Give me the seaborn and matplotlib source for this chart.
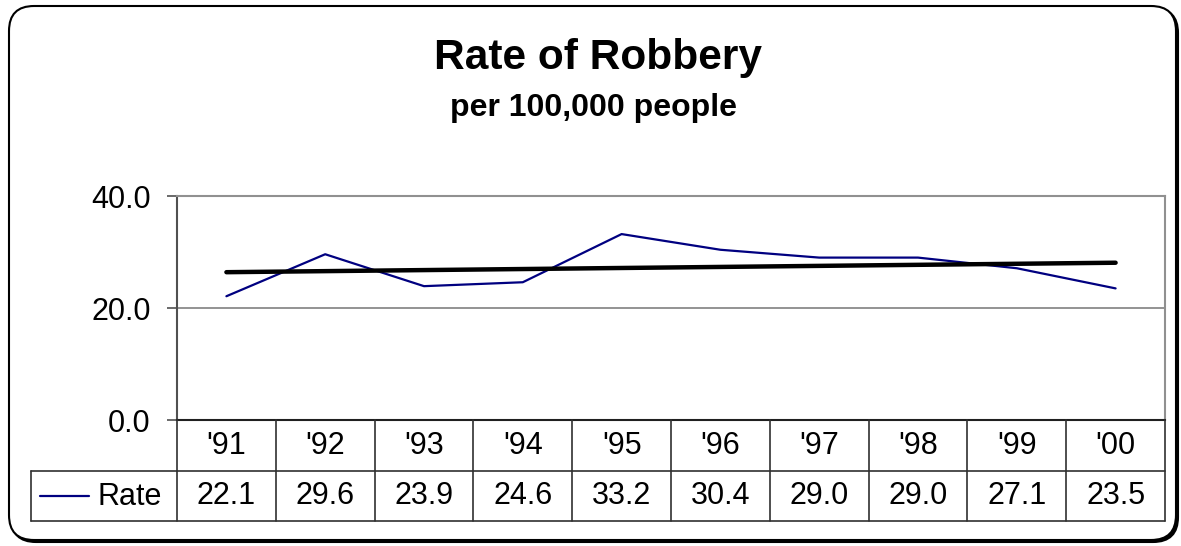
import matplotlib
matplotlib.use("Agg")

import matplotlib.pyplot as plt
import matplotlib.transforms as mtransforms
from matplotlib.patches import FancyBboxPatch
from matplotlib.lines import Line2D
import seaborn as sns
import pandas as pd
import numpy as np

years = ["'91", "'92", "'93", "'94", "'95", "'96", "'97", "'98", "'99", "'00"]
rate = [22.1, 29.6, 23.9, 24.6, 33.2, 30.4, 29.0, 29.0, 27.1, 23.5]
y_ticks = [0, 20, 40]
series_name = "Rate"
title = "Rate of Robbery"
subtitle = "per 100,000 people"

sns.set_style("white")
plt.rcParams["font.family"] = ["Liberation Sans", "DejaVu Sans"]
plt.rcParams["text.color"] = "black"
plt.rcParams["ytick.color"] = "black"

W, H = 1181, 546
fig = plt.figure(figsize=(W / 100, H / 100), dpi=100)
FS = 22


def fx(x):
    return x / W


def fy(y):
    return 1 - y / H


# rounded outer frame with a small shadow
ident = mtransforms.IdentityTransform()
for off, fc, z in [((2, -2), "black", -3), ((0, 0), "white", -2)]:
    fig.patches.append(FancyBboxPatch(
        (9 + 25 + off[0], 6 + 25 + off[1]), 1167 - 50, 534 - 50,
        boxstyle="round,pad=25", transform=ident,
        facecolor=fc, edgecolor="black", linewidth=1.5, zorder=z))

# plot area
left, right, top, bottom = 177, 1165, 196, 420
ax = fig.add_axes([fx(left), fy(bottom), fx(right - left), fy(top) - fy(bottom)])
ax.set_zorder(1)
ax.patch.set_alpha(0)

df = pd.DataFrame({"x": np.arange(len(years)), "rate": rate})

sns.lineplot(data=df, x="x", y="rate", color="#000080", lw=1.6, ax=ax)
sns.regplot(data=df, x="x", y="rate", scatter=False, ci=None, color="black",
            line_kws=dict(lw=3.2, solid_capstyle="round"), ax=ax)

ax.set_xlim(-0.5, len(years) - 0.5)
ax.set_ylim(0, 40)
ax.set_yticks(y_ticks)
ax.set_yticklabels([f"{v:.1f}" for v in y_ticks], fontsize=FS)
ax.set_xticks([])
ax.set_xlabel("")
ax.set_ylabel("")
ax.tick_params(axis="y", length=7, width=1.2, color="#505050", pad=12, left=True)
ax.axhline(20, color="#808080", lw=1.2, zorder=0)

for s in ["top", "right"]:
    ax.spines[s].set_color("#909090")
    ax.spines[s].set_linewidth(1.5)
ax.spines["left"].set_color("#505050")
ax.spines["left"].set_linewidth(1.5)
ax.spines["bottom"].set_color("#202020")
ax.spines["bottom"].set_linewidth(1.5)

# titles
fig.text(fx(598), fy(58), title, ha="center", va="center", fontsize=30.5, fontweight="bold")
fig.text(fx(593), fy(108), subtitle, ha="center", va="center", fontsize=23, fontweight="bold")

# data table below the plot area
row1, row2, row3 = 420, 471, 521
tab_left = 31
lc = "#303030"
blend = mtransforms.blended_transform_factory(ax.transData, fig.transFigure)


def fline(xs, ys):
    fig.add_artist(Line2D([fx(v) for v in xs], [fy(v) for v in ys], color=lc, lw=1.2))


fline([left, right], [row2, row2])
fline([tab_left, right], [row3, row3])
fline([tab_left, left], [row2, row2])
fline([tab_left, tab_left], [row2, row3])
for i in range(len(years) + 1):
    xb = ax.transData.transform((i - 0.5, 0))[0]
    fline([xb, xb], [row1, row3])

for i, (yr, v) in enumerate(zip(years, rate)):
    fig.text(i, fy((row1 + row2) / 2), yr, transform=blend, ha="center", va="center", fontsize=FS)
    fig.text(i, fy((row2 + row3) / 2), f"{v:.1f}", transform=blend, ha="center", va="center", fontsize=FS)

# legend key inside the table
fig.add_artist(Line2D([fx(40), fx(89)], [fy(496), fy(496)], color="#000080", lw=1.6))
fig.text(fx(97), fy(497), series_name, ha="left", va="center", fontsize=FS)

fig.savefig("out.png", dpi=100)
